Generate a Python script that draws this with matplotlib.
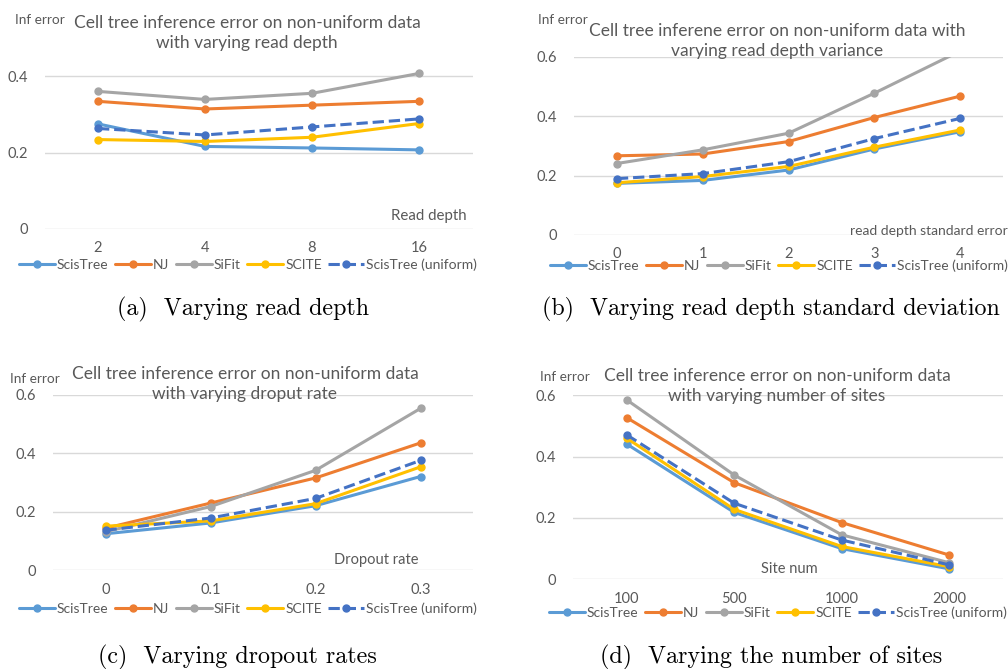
import matplotlib
matplotlib.use("Agg")
import matplotlib.pyplot as plt

W, H = 1008, 669

# ---- data ----
series_names = ["ScisTree", "NJ", "SiFit", "SCITE", "ScisTree (uniform)"]

depth_ticks = ["2", "4", "8", "16"]
depth_scistree = [0.275, 0.216, 0.212, 0.207]
depth_nj = [0.334, 0.314, 0.324, 0.334]
depth_sifit = [0.360, 0.339, 0.355, 0.407]
depth_scite = [0.234, 0.229, 0.240, 0.276]
depth_uniform = [0.263, 0.246, 0.267, 0.288]

var_ticks = ["0", "1", "2", "3", "4"]
var_scistree = [0.174, 0.184, 0.219, 0.290, 0.348]
var_nj = [0.267, 0.273, 0.315, 0.396, 0.468]
var_sifit = [0.241, 0.287, 0.343, 0.478, 0.620]
var_scite = [0.176, 0.197, 0.231, 0.296, 0.354]
var_uniform = [0.190, 0.207, 0.247, 0.325, 0.393]

drop_ticks = ["0", "0.1", "0.2", "0.3"]
drop_scistree = [0.125, 0.162, 0.221, 0.321]
drop_nj = [0.144, 0.230, 0.316, 0.436]
drop_sifit = [0.132, 0.218, 0.342, 0.554]
drop_scite = [0.151, 0.169, 0.228, 0.354]
drop_uniform = [0.137, 0.179, 0.246, 0.376]

site_ticks = ["100", "500", "1000", "2000"]
site_scistree = [0.441, 0.218, 0.100, 0.034]
site_nj = [0.527, 0.315, 0.185, 0.079]
site_sifit = [0.585, 0.340, 0.145, 0.054]
site_scite = [0.460, 0.228, 0.107, 0.041]
site_uniform = [0.471, 0.248, 0.128, 0.047]

colors = ["#5B9BD5", "#ED7D31", "#A5A5A5", "#FFC000", "#4472C4"]
styles = ["-", "-", "-", "-", "--"]

plt.rcParams["font.family"] = ["Lato", "DejaVu Sans"]
TXT = "#595959"

fig = plt.figure(figsize=(W / 100, H / 100), dpi=100)


def fx(px):
    return px / W


def fy(py):
    return 1 - py / H


def panel(x0, x1, y_zero, y_top, ytop_val, yticks, ticks, data, title,
          title_xy, xlabel, xlabel_xy, xlabel_size, inf_xy, legend_xy,
          caption, caption_xy):
    ax = fig.add_axes([fx(x0), fy(y_zero), fx(x1 - x0), (y_zero - y_top) / H])
    n = len(ticks)
    xs = list(range(n))
    for vals, name, c, ls in zip(data, series_names, colors, styles):
        ax.plot(xs, vals, color=c, ls=ls, lw=2.2, marker="o", ms=5,
                label=name, solid_capstyle="round")
    ax.set_xlim(-0.5, n - 0.5)
    ax.set_ylim(0, ytop_val)
    ax.set_yticks(yticks)
    ax.set_yticklabels(["0" if v == 0 else f"{v:.1f}" for v in yticks])
    ax.set_xticks(xs)
    ax.set_xticklabels(ticks)
    ax.grid(axis="y", color="#D9D9D9", lw=1)
    ax.set_axisbelow(True)
    for s in ax.spines.values():
        s.set_visible(False)
    ax.tick_params(length=0, labelsize=10.5, colors=TXT, pad=9)
    ax.tick_params(axis="y", pad=12)
    fig.text(fx(title_xy[0]), fy(title_xy[1]), title, ha="center", va="center",
             fontsize=12.5, color=TXT, linespacing=1.38)
    fig.text(fx(xlabel_xy[0]), fy(xlabel_xy[1]), xlabel, ha="right", va="center",
             fontsize=xlabel_size, color=TXT)
    fig.text(fx(inf_xy[0]), fy(inf_xy[1]), "Inf error", ha="left", va="center",
             fontsize=9.8, color=TXT)
    fig.legend(*ax.get_legend_handles_labels(), loc="center",
               bbox_to_anchor=(fx(legend_xy[0]), fy(legend_xy[1])), ncol=5,
               frameon=False, fontsize=10, handlelength=2.6, handletextpad=0.15,
               columnspacing=0.45, labelcolor=TXT, borderaxespad=0, borderpad=0)
    fig.text(fx(caption_xy[0]), fy(caption_xy[1]), caption, ha="center",
             va="center", fontsize=17.3, family="cmr10", color="black")
    return ax


panel(44.5, 472.5, 229, 57, 0.45, [0, 0.2, 0.4], depth_ticks,
      [depth_scistree, depth_nj, depth_sifit, depth_scite, depth_uniform],
      "Cell tree inference error on non-uniform data\nwith varying read depth",
      (247, 33), "Read depth", (467, 216), 10.8, (15, 20), (248, 265),
      "(a)  Varying read depth", (243, 309))

panel(574, 1003, 235, 57, 0.6, [0, 0.2, 0.4, 0.6], var_ticks,
      [var_scistree, var_nj, var_sifit, var_scite, var_uniform],
      "Cell tree inferene error on non-uniform data with\nvarying read depth variance",
      (777, 41), "read depth standard error", (1008, 231), 10, (538, 20), (779, 266),
      "(b)  Varying read depth standard deviation", (771, 309))

panel(53, 473, 570.3, 395, 0.6, [0, 0.2, 0.4, 0.6], drop_ticks,
      [drop_scistree, drop_nj, drop_sifit, drop_scite, drop_uniform],
      "Cell tree inference error on non-uniform data\nwith varying droput rate",
      (245, 384), "Dropout rate", (418, 560), 10.5, (10, 379), (248, 609),
      "(c)  Varying dropout rates", (237, 657))

panel(573, 1003, 579.3, 395.3, 0.6, [0, 0.2, 0.4, 0.6], site_ticks,
      [site_scistree, site_nj, site_sifit, site_scite, site_uniform],
      "Cell tree inference error on non-uniform data\nwith varying number of sites",
      (777, 386), "Site num", (818, 569), 10.5, (540, 377), (778, 613),
      "(d)  Varying the number of sites", (771, 657))

fig.savefig("out.png", dpi=100)
